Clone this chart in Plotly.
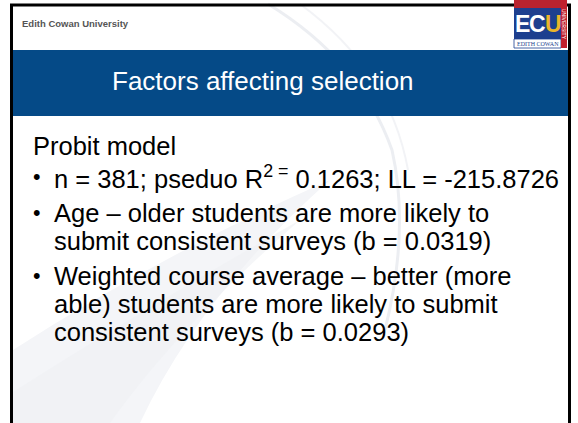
import plotly.graph_objects as go

W, H = 578, 423

header_text = "Edith Cowan University"
title_text = "Factors affecting selection"
intro_text = "Probit model"
logo_letters = ["E", "C", "U"]
logo_sub = "EDITH COWAN"
logo_side = "UNIVERSITY"
body_lines = [
    "n = 381; pseduo R<sup>2 =</sup> 0.1263; LL = -215.8726",
    "Age – older students are more likely to",
    "submit consistent surveys (b = 0.0319)",
    "Weighted course average – better (more",
    "able) students are more likely to submit",
    "consistent surveys (b = 0.0293)",
]
intro_center = 146
body_centers = [177, 213, 241, 276, 304, 332]
body_bullets = [True, True, False, True, False, False]

BLUE = "#054a87"
FONT = "Liberation Sans, Arial, sans-serif"
BODY_SIZE = 25.5

fig = go.Figure()
fig.add_trace(go.Scatter(x=[0, W], y=[0, H], mode="markers",
                         marker=dict(opacity=0), hoverinfo="skip", showlegend=False))

shapes = []
# faint watermark swooshes
shapes.append(dict(type="path", layer="below",
                   path="M 13 423 L 13 350 Q 160 255 330 180 Q 200 295 140 423 Z",
                   fillcolor="#f4f5f8", line=dict(width=0)))
shapes.append(dict(type="path", layer="below",
                   path="M 13 423 L 13 392 Q 150 305 300 220 Q 180 325 110 423 Z",
                   fillcolor="#eef0f3", line=dict(width=0), opacity=0.6))
shapes.append(dict(type="path", layer="below",
                   path="M 268 4 Q 360 60 392 150 Q 410 230 385 330",
                   line=dict(color="#eceef2", width=3)))
shapes.append(dict(type="path", layer="below",
                   path="M 300 4 Q 390 70 408 170",
                   line=dict(color="#f2f3f6", width=2)))

# slide frame
shapes.append(dict(type="rect", x0=11.5, y0=5, x1=569.5, y1=H + 5,
                   line=dict(color="black", width=3), fillcolor="rgba(0,0,0,0)"))
# title band
shapes.append(dict(type="rect", x0=13, y0=50, x1=568, y1=116,
                   line=dict(width=0), fillcolor=BLUE))
# ECU logo blocks
shapes.append(dict(type="rect", x0=514, y0=0, x1=561, y1=8, line=dict(width=0), fillcolor="#b8232f"))
shapes.append(dict(type="rect", x0=514, y0=8, x1=561, y1=39, line=dict(width=0), fillcolor="#1d3f8f"))
shapes.append(dict(type="rect", x0=514, y0=39, x1=561, y1=48, line=dict(width=0.8, color="#1d3f8f"), fillcolor="white"))
shapes.append(dict(type="rect", x0=561, y0=0, x1=567, y1=48, line=dict(width=0), fillcolor="#c0202d"))

annotations = []
annotations.append(dict(x=20, y=23, text="<b>" + header_text + "</b>", showarrow=False,
                        xanchor="left", yanchor="middle",
                        font=dict(family=FONT, size=9.5, color="#555555")))
annotations.append(dict(x=263, y=81, text=title_text, showarrow=False,
                        xanchor="center", yanchor="middle",
                        font=dict(family=FONT, size=26, color="white")))
# logo text
logo_x = [522, 537.5, 553]
logo_col = ["white", "white", "#eab52a"]
for letter, lx, lc in zip(logo_letters, logo_x, logo_col):
    annotations.append(dict(x=lx, y=24, text="<b>" + letter + "</b>", showarrow=False,
                            xanchor="center", yanchor="middle",
                            font=dict(family=FONT, size=23, color=lc)))
annotations.append(dict(x=537.5, y=43.5, text=logo_sub, showarrow=False, xanchor="center", yanchor="middle",
                        font=dict(family="Liberation Serif, serif", size=6, color="#1d3f8f")))
annotations.append(dict(x=564, y=24, text=logo_side, showarrow=False, xanchor="center", yanchor="middle",
                        textangle=90, font=dict(family=FONT, size=5, color="white")))

annotations.append(dict(x=31, y=intro_center, text=intro_text, showarrow=False,
                        xanchor="left", yanchor="middle",
                        font=dict(family=FONT, size=BODY_SIZE, color="black")))
for txt, cy, bul in zip(body_lines, body_centers, body_bullets):
    if bul:
        annotations.append(dict(x=31, y=cy, text="•", showarrow=False,
                                xanchor="left", yanchor="middle",
                                font=dict(family=FONT, size=BODY_SIZE - 4, color="black")))
    annotations.append(dict(x=52, y=cy, text=txt, showarrow=False,
                            xanchor="left", yanchor="middle",
                            font=dict(family=FONT, size=BODY_SIZE, color="black")))

fig.update_layout(
    width=W, height=H, margin=dict(l=0, r=0, t=0, b=0),
    paper_bgcolor="white", plot_bgcolor="white",
    xaxis=dict(range=[0, W], visible=False, fixedrange=True),
    yaxis=dict(range=[H, 0], visible=False, fixedrange=True),
    shapes=shapes, annotations=annotations, showlegend=False,
)
fig.write_html("out.html", config={"displayModeBar": False},
               post_script="document.body.style.margin='0';document.body.style.overflow='hidden';")
